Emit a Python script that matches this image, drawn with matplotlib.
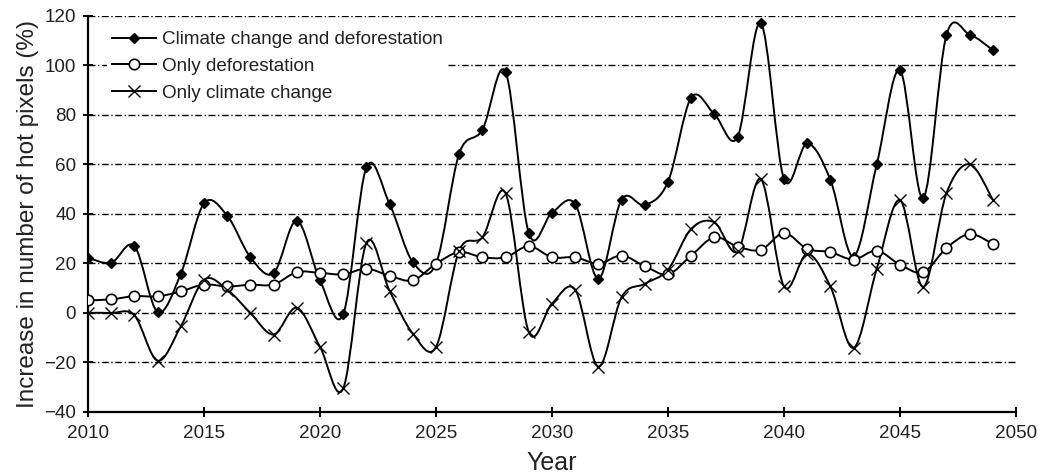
import numpy as np
import matplotlib.pyplot as plt
from matplotlib.path import Path
from matplotlib.patches import PathPatch
from matplotlib.lines import Line2D

years = np.arange(2010, 2050)

both = [22.3, 20.3, 27.0, 0.4, 15.8, 44.3, 39.3, 22.5, 16.1, 37.3,
        13.2, -0.5, 58.8, 44.0, 20.5, 19.9, 64.4, 74.0, 97.3, 32.3,
        40.5, 44.0, 13.8, 45.8, 43.6, 53.0, 87.0, 80.3, 71.1, 117.2,
        54.1, 68.5, 53.8, 22.8, 60.1, 98.1, 46.4, 112.2, 112.5, 106.2]

defor = [5.1, 5.5, 6.8, 6.7, 8.7, 11.5, 10.7, 11.4, 11.5, 16.5,
         16.2, 15.6, 17.9, 15.0, 13.2, 19.9, 24.6, 22.5, 22.5, 27.0,
         22.5, 22.5, 19.9, 23.2, 18.9, 15.6, 23.2, 30.6, 26.8, 25.5,
         32.3, 25.9, 24.6, 21.6, 25.2, 19.5, 16.5, 26.2, 31.9, 27.9]

climate = [0.0, 0.0, -1.0, -19.3, -5.4, 13.4, 9.4, 0.0, -8.7, 2.1,
           -13.7, -30.5, 28.3, 8.9, -8.3, -13.7, 25.2, 30.6, 48.3, -7.7,
           3.8, 9.4, -21.7, 6.4, 11.8, 17.5, 34.0, 36.6, 25.0, 54.1,
           10.7, 23.9, 10.7, -14.1, 17.9, 45.6, 10.5, 48.3, 60.1, 45.8]

labels = ["Climate change and deforestation", "Only deforestation", "Only climate change"]

plt.rcParams["font.family"] = ["Liberation Sans", "DejaVu Sans"]
TXT = "#222222"


def smooth_path(x, y):
    # cubic Bezier segments through every point (spreadsheet-style smoothed line)
    pts = np.column_stack([x, y]).astype(float)
    ext = np.vstack([pts[0], pts, pts[-1]])
    verts = [pts[0]]
    codes = [Path.MOVETO]
    for i in range(len(pts) - 1):
        p0, p1, p2, p3 = ext[i], ext[i + 1], ext[i + 2], ext[i + 3]
        verts += [p1 + (p2 - p0) / 6, p2 - (p3 - p1) / 6, p2]
        codes += [Path.CURVE4] * 3
    return Path(verts, codes)


fig = plt.figure(figsize=(10.38, 4.76), dpi=100)
ax = fig.add_axes([0.0848, 0.1345, 0.894, 0.832])

styles = [
    dict(marker="D", ms=5, mfc="black", mec="black"),
    dict(marker="o", ms=7.5, mfc="white", mec="black", mew=1.2),
    dict(marker="x", ms=8, mec="black", mew=1.0),
]
handles = []
for vals, st, lab in zip([both, defor, climate], styles, labels):
    ax.add_patch(PathPatch(smooth_path(years, vals), fc="none", ec="black",
                           lw=1.4, zorder=3))
    ax.plot(years, vals, ls="none", zorder=4, **st)
    handles.append(Line2D([], [], color="black", lw=1.4, label=lab, **st))

ax.set_xlim(2010, 2050)
ax.set_ylim(-40, 120)
ax.set_xticks(np.arange(2010, 2051, 5))
ax.set_yticks(np.arange(-40, 121, 20))
ax.set_yticklabels([f"\u2212{abs(v)}" if v < 0 else str(v) for v in range(-40, 121, 20)])

for v in range(-20, 121, 20):
    ax.axhline(v, color="black", lw=1.0, dashes=(5, 1.8, 1, 1.8), zorder=1)

for side in ["top", "right"]:
    ax.spines[side].set_visible(False)
for side in ["left", "bottom"]:
    ax.spines[side].set_linewidth(1.6)
ax.tick_params(direction="inout", length=7, width=1.4, labelsize=13.6,
               labelcolor=TXT)
ax.tick_params(axis="x", pad=6)
ax.tick_params(axis="y", pad=5)

ax.set_xlabel("Year", fontsize=18, color=TXT, labelpad=6)
ax.set_ylabel("Increase in number of hot pixels (%)", fontsize=17.5, color=TXT, labelpad=4)

leg = ax.legend(handles=handles, loc="upper left", bbox_to_anchor=(0.01, 1.0),
                frameon=True, fontsize=13.6, handlelength=2.3, labelspacing=0.5,
                borderpad=0.3, handletextpad=0.3)
leg.get_frame().set_edgecolor("none")
leg.get_frame().set_facecolor("white")
leg.get_frame().set_alpha(1)
leg.set_zorder(5)
for t in leg.get_texts():
    t.set_color(TXT)

fig.savefig("out.png", dpi=100)
